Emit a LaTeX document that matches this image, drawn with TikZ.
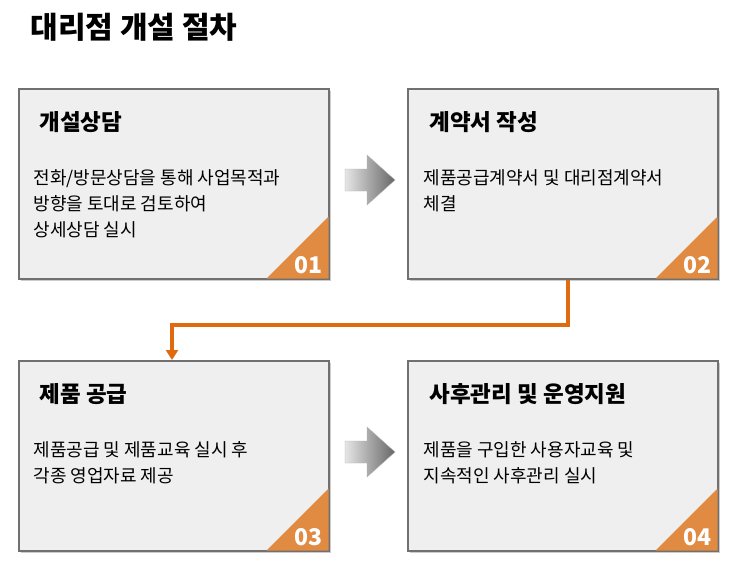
\documentclass[tikz,border=0pt]{standalone}
\usepackage{fontspec}
\setmainfont{Noto Sans CJK KR}
\usetikzlibrary{shadings,arrows.meta}
\definecolor{boxfill}{HTML}{EFEFEF}
\definecolor{boxline}{HTML}{707070}
\definecolor{org}{HTML}{E08A42}
\definecolor{lineorg}{HTML}{E06A10}
\tikzset{
 stepbox/.style={draw=boxline,line width=1.5pt,fill=boxfill,minimum width=310pt,minimum height=190pt,anchor=north west,inner sep=0pt},
 head/.style={anchor=west,font=\fontsize{22.5}{26}\selectfont\bfseries},
 body/.style={anchor=north west,align=left,font=\fontsize{18}{26}\selectfont},
 num/.style={text=white,font=\fontsize{23}{24}\selectfont\bfseries,anchor=south east},
 garrow/.style={left color=gray!20,right color=gray!80!black,draw=gray!60}
}
\begin{document}
\begin{tikzpicture}[x=1pt,y=-1pt]
\useasboundingbox (0,0) rectangle (740,582);
\node[anchor=west,font=\fontsize{30}{34}\selectfont\bfseries] (title) at (27,27) {대리점 개설 절차};
\foreach \x/\y in {18/88,407/88,18/360,407/360}{\fill[gray!40] (\x+3,\y+3) rectangle ++(310,190);}
\node[stepbox] (b1) at (18,88) {};
\node[stepbox] (b2) at (407,88) {};
\node[stepbox] (b3) at (18,360) {};
\node[stepbox] (b4) at (407,360) {};
\foreach \b/\n in {b1/01,b2/02,b3/03,b4/04}{
 \fill[org] ([xshift=-1pt,yshift=1pt]\b.south east) -- ++(-62,0) -- ++(62,-62) -- cycle;
 \node[num] (n\n) at ([xshift=-3pt,yshift=2pt]\b.south east) {\n};
}
\node[head] (h1) at (36,122) {개설상담};
\node[body] (t1) at (30,166) {전화/방문상담을 통해 사업목적과\\방향을 토대로 검토하여\\상세상담 실시};
\node[head] (h2) at (426,122) {계약서 작성};
\node[body] (t2) at (420,166) {제품공급계약서 및 대리점계약서\\체결};
\node[head] (h3) at (36,394) {제품 공급};
\node[body] (t3) at (30,438) {제품공급 및 제품교육 실시 후\\각종 영업자료 제공};
\node[head] (h4) at (426,394) {사후관리 및 운영지원};
\node[body] (t4) at (420,438) {제품을 구입한 사용자교육 및\\지속적인 사후관리 실시};
\foreach \y in {180,452}{
 \shade[garrow] (345,\y-11) -- (367,\y-11) -- (367,\y-25) -- (395,\y) -- (367,\y+25) -- (367,\y+11) -- (345,\y+11) -- cycle;
}
\coordinate (c1) at (568,325);
\coordinate (c2) at (172,325);
\draw[lineorg,line width=4pt,-{Triangle[length=10pt,width=12pt]}] (b2.south -| c1) -- (c1) -- (c2) -- (b3.north -| c2);
\end{tikzpicture}
\end{document}
